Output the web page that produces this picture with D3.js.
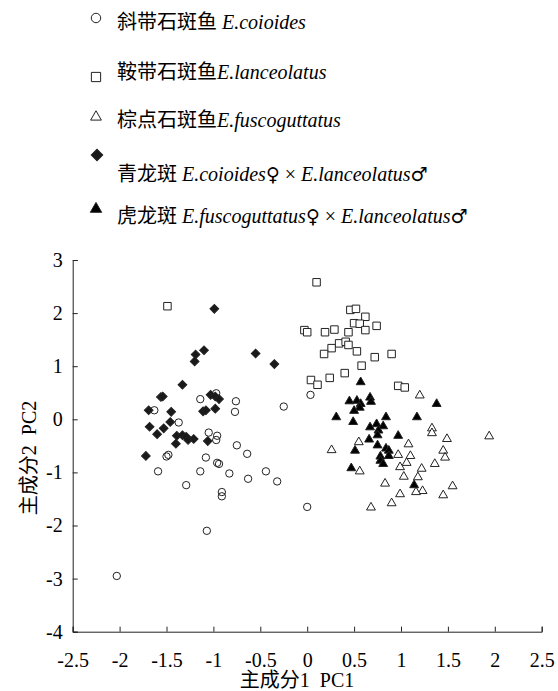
<!DOCTYPE html>
<html>
<head>
<meta charset="utf-8">
<title>PCA</title>
<script src="https://cdn.jsdelivr.net/npm/d3@7"></script>
<style>
  body { margin: 0; background: #fff; }
  text { font-family: "Liberation Serif", "Noto Sans CJK SC", serif; fill: #000; }
  tspan.sym { font-family: "DejaVu Sans", "Noto Sans", sans-serif; font-size: 19px; }
</style>
</head>
<body>
<div id="chart"></div>
<script>
// PC1, PC2 pairs
var coioides = [[-0.97,0.49],[-1.14,0.38],[-0.76,0.34],[-0.25,0.24],[-0.77,0.14],[-1.63,0.17],
  [-1.37,-0.06],[-1.05,-0.25],[-0.96,-0.31],[-0.97,-0.39],[-0.75,-0.49],[-0.64,-0.65],
  [-1.50,-0.70],[-1.48,-0.67],[-1.08,-0.72],[-0.96,-0.82],[-0.94,-0.84],[-1.59,-0.98],
  [-1.14,-0.98],[-0.83,-1.02],[-0.44,-0.98],[-0.63,-1.12],[-0.32,-1.17],[-1.29,-1.24],
  [-0.91,-1.37],[-0.91,-1.45],[-1.07,-2.10],[0.00,-1.65],[-2.03,-2.95],[0.035,0.46]];
var lanceolatus = [[-1.49,2.13],[0.10,2.58],[0.46,2.06],[0.52,2.08],[0.62,1.93],[0.50,1.81],
  [0.56,1.80],[0.74,1.76],[0.62,1.68],[-0.03,1.68],[0.00,1.64],[0.19,1.64],[0.29,1.69],
  [0.44,1.64],[0.34,1.43],[0.41,1.46],[0.44,1.40],[0.26,1.34],[0.18,1.23],[0.53,1.28],
  [0.72,1.17],[0.90,1.23],[0.58,1.01],[0.40,0.87],[0.24,0.78],[0.04,0.74],[0.11,0.65],
  [0.97,0.63],[1.04,0.60]];
var fuscoguttatus = [[1.20,0.45],[1.33,-0.17],[1.33,-0.26],[1.49,-0.37],[1.94,-0.32],[0.55,-0.43],
  [0.26,-0.58],[1.08,-0.47],[1.45,-0.59],[1.47,-0.72],[0.97,-0.67],[1.10,-0.69],[1.06,-0.82],
  [0.99,-0.90],[1.36,-0.84],[1.22,-0.93],[0.56,-0.98],[1.03,-1.08],[1.18,-1.09],[0.83,-1.21],
  [1.55,-1.26],[1.23,-1.35],[1.16,-1.37],[0.99,-1.41],[1.45,-1.43],[0.90,-1.58],[0.68,-1.66]];
var qinglong = [[-0.99,2.08],[-1.10,1.30],[-1.19,1.22],[-1.20,1.09],[-0.55,1.24],[-0.35,1.04],
  [-1.33,0.65],[-1.56,0.42],[-1.54,0.43],[-1.03,0.46],[-0.98,0.43],[-0.94,0.38],[-1.69,0.17],
  [-1.45,0.14],[-1.11,0.15],[-1.08,0.17],[-0.98,0.20],[-1.46,-0.05],[-1.68,-0.14],[-1.53,-0.17],
  [-1.60,-0.28],[-1.39,-0.31],[-1.33,-0.30],[-1.29,-0.33],[-1.27,-0.39],[-1.21,-0.37],
  [-1.40,-0.46],[-1.06,-0.41],[-1.72,-0.69]];
var hulong = [[0.57,0.70],[0.45,0.34],[0.53,0.35],[0.67,0.41],[0.68,0.33],[0.57,0.29],[0.56,0.22],
  [0.50,0.16],[1.38,0.29],[0.31,0.04],[0.49,-0.05],[0.84,0.04],[1.17,0.04],[0.74,-0.09],
  [0.67,-0.15],[0.81,-0.13],[0.76,-0.21],[0.75,-0.30],[0.97,-0.31],[0.66,-0.38],[0.75,-0.49],
  [0.84,-0.55],[0.87,-0.59],[0.87,-0.69],[0.51,-0.59],[0.78,-0.70],[0.78,-0.78],[0.81,-0.84],
  [0.47,-0.92],[1.14,-1.24]];

var xTicks = [-2.5,-2,-1.5,-1,-0.5,0,0.5,1,1.5,2,2.5];
var yTicks = [-4,-3,-2,-1,0,1,2,3];

var width = 558, height = 691;
var svg = d3.select("#chart").append("svg")
    .attr("width", width)
    .attr("height", height);

var x = d3.scaleLinear().domain([-2.5, 2.5]).range([72.7, 541.7]);
var y = d3.scaleLinear().domain([-4, 3]).range([631.7, 260]);

// axes, ticks point inward
var gx = svg.append("g")
    .attr("transform", "translate(0," + y(-4) + ")")
    .call(d3.axisBottom(x).tickValues(xTicks).tickSize(-5).tickPadding(21)
      .tickFormat(function(d) { return String(d); }));
var gy = svg.append("g")
    .attr("transform", "translate(" + x(-2.5) + ",0)")
    .call(d3.axisLeft(y).tickValues(yTicks).tickSize(-5).tickPadding(10)
      .tickFormat(function(d) { return String(d); }));
[gx, gy].forEach(function(g) {
  g.selectAll("path,line").attr("stroke", "#222");
  g.selectAll("text").attr("font-size", "20px").attr("fill", "#000");
});

svg.append("text")
    .attr("x", 297).attr("y", 687)
    .attr("text-anchor", "middle")
    .attr("font-size", "20px")
    .text("主成分1\u00a0\u00a0PC1");
svg.append("text")
    .attr("transform", "translate(36,458) rotate(-90)")
    .attr("text-anchor", "middle")
    .attr("font-size", "20px")
    .text("主成分2\u00a0\u00a0PC2");

var sym = {
  circle:  { type: d3.symbolCircle,   fill: "none",    rot: 0 },
  square:  { type: d3.symbolSquare,   fill: "#fff",    rot: 0 },
  tri:     { type: d3.symbolTriangle, fill: "#fff",    rot: 0 },
  diamond: { type: d3.symbolSquare,   fill: "#1a1a1a", rot: 45 },
  ftri:    { type: d3.symbolTriangle, fill: "#000",    rot: 0 }
};
var plotSize = { circle: 43, square: 56, tri: 34, diamond: 38, ftri: 34 };

function drawSeries(data, key) {
  svg.append("g").selectAll("path")
    .data(data)
    .enter().append("path")
    .attr("d", d3.symbol().type(sym[key].type).size(plotSize[key]))
    .attr("transform", function(d) {
      return "translate(" + x(d[0]) + "," + y(d[1]) + ") rotate(" + sym[key].rot + ")";
    })
    .attr("fill", sym[key].fill)
    .attr("stroke", "#222")
    .attr("stroke-width", 1);
}
drawSeries(coioides, "circle");
drawSeries(lanceolatus, "square");
drawSeries(fuscoguttatus, "tri");
drawSeries(qinglong, "diamond");
drawSeries(hulong, "ftri");

// legend: [text, italic, symbol glyph]
var legend = [
  { key: "circle",  mx: 96, my: 18,  ty: 29,  size: 70,
    parts: [["斜带石斑鱼 ", false], ["E.coioides", true]] },
  { key: "square",  mx: 96, my: 77,  ty: 79,  size: 85,
    parts: [["鞍带石斑鱼", false], ["E.lanceolatus", true]] },
  { key: "tri",     mx: 96, my: 117, ty: 127, size: 50,
    parts: [["棕点石斑鱼", false], ["E.fuscoguttatus", true]] },
  { key: "diamond", mx: 97, my: 155, ty: 181, size: 66,
    parts: [["青龙斑 ", false], ["E.coioides", true], ["♀", false, true], [" × ", false], ["E.lanceolatus", true], ["♂", false, true]] },
  { key: "ftri",    mx: 96, my: 209, ty: 223, size: 56,
    parts: [["虎龙斑 ", false], ["E.fuscoguttatus", true], ["♀", false, true], [" × ", false], ["E.lanceolatus", true], ["♂", false, true]] }
];
legend.forEach(function(l) {
  svg.append("path")
    .attr("d", d3.symbol().type(sym[l.key].type).size(l.size))
    .attr("transform", "translate(" + l.mx + "," + l.my + ") rotate(" + sym[l.key].rot + ")")
    .attr("fill", sym[l.key].fill)
    .attr("stroke", "#222")
    .attr("stroke-width", 1);
  var t = svg.append("text")
    .attr("x", 117).attr("y", l.ty)
    .attr("font-size", "20px")
    .attr("xml:space", "preserve");
  l.parts.forEach(function(p) {
    t.append("tspan")
      .attr("class", p[2] ? "sym" : null)
      .attr("font-style", p[1] ? "italic" : "normal")
      .text(p[0].replace(/ /g, "\u00a0"));
  });
});
</script>
</body>
</html>
